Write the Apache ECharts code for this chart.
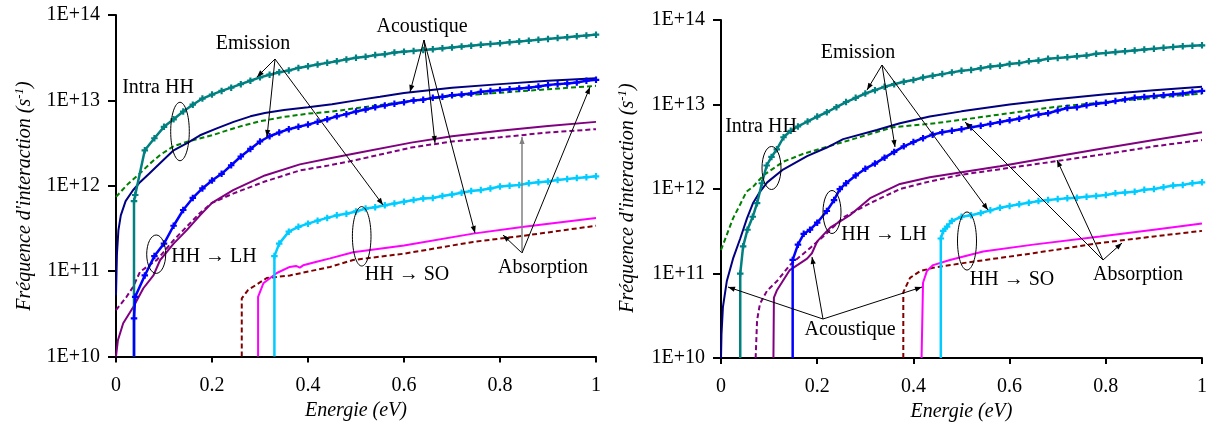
<!DOCTYPE html>
<html><head><meta charset="utf-8">
<script src="https://cdn.jsdelivr.net/npm/echarts@6/dist/echarts.min.js"></script>
<style>html,body{margin:0;padding:0;background:#fff}#c{width:1212px;height:427px}</style>
</head><body><div id="c"></div>
<script>
// ---------- axis ticks ----------
const xTicks = [0, 0.2, 0.4, 0.6, 0.8, 1];
const yTickExponents = [10, 11, 12, 13, 14];

// ---------- LEFT PANEL (Energie in eV, frequency in s^-1) ----------
const L_EM_E = [0.0375,0.0375,0.04,0.06,0.08,0.10,0.12,0.14,0.16,0.18,0.20,0.22,0.24,0.26,0.28,0.30,0.32,0.34,0.36,0.38,0.40,0.42,0.44,0.46,0.48,0.50,0.52,0.54,0.56,0.58,0.60,0.62,0.64,0.66,0.68,0.70,0.72,0.74,0.76,0.78,0.80,0.82,0.84,0.86,0.88,0.90,0.92,0.94,0.96,0.98,1.00];
const L_intraEmission = [1e10,6.6e11,7.8e11,2.6e12,3.6e12,4.9e12,6.0e12,7.4e12,8.9e12,1.05e13,1.17e13,1.29e13,1.41e13,1.55e13,1.70e13,1.86e13,2.0e13,2.14e13,2.24e13,2.4e13,2.51e13,2.63e13,2.75e13,2.88e13,3.02e13,3.16e13,3.24e13,3.39e13,3.47e13,3.63e13,3.72e13,3.80e13,3.89e13,3.98e13,4.07e13,4.17e13,4.27e13,4.37e13,4.47e13,4.57e13,4.68e13,4.79e13,4.90e13,5.01e13,5.13e13,5.25e13,5.37e13,5.50e13,5.62e13,5.75e13,5.89e13];
const L_lhEmission = [1e10,2.8e10,5.0e10,8.9e10,1.5e11,2.1e11,3.4e11,5.2e11,7.2e11,9.3e11,1.15e12,1.38e12,1.74e12,2.2e12,2.7e12,3.3e12,3.8e12,4.2e12,4.6e12,4.9e12,5.2e12,5.6e12,6.0e12,6.5e12,6.9e12,7.4e12,7.8e12,8.3e12,8.7e12,9.1e12,9.5e12,1.0e13,1.02e13,1.07e13,1.10e13,1.15e13,1.17e13,1.2e13,1.26e13,1.29e13,1.32e13,1.35e13,1.38e13,1.41e13,1.45e13,1.51e13,1.55e13,1.58e13,1.62e13,1.70e13,1.74e13];

const L_intraAbs_E = [0,0.002,0.005,0.01,0.02,0.035,0.05,0.07,0.09,0.12,0.15,0.175,0.21,0.245,0.28,0.31,0.35,0.4,0.45,0.5,0.55,0.6,0.7,0.8,0.9,1.0];
const L_intraAbs = [5.2e10,1.6e11,3.0e11,4.5e11,6.6e11,8.8e11,1.1e12,1.4e12,1.8e12,2.6e12,3.2e12,3.9e12,4.7e12,5.6e12,6.5e12,7.1e12,7.7e12,8.3e12,9.0e12,1.0e13,1.1e13,1.22e13,1.41e13,1.55e13,1.7e13,1.82e13];

const L_intraAc_E = [0,0.025,0.05,0.07,0.092,0.12,0.15,0.2,0.25,0.3,0.35,0.4,0.45,0.5,0.6,0.7,0.8,0.9,1.0];
const L_intraAc = [7.4e11,1.05e12,1.4e12,1.8e12,2.3e12,2.9e12,3.3e12,3.9e12,4.8e12,5.7e12,6.4e12,7.0e12,7.4e12,8.1e12,9.6e12,1.12e13,1.23e13,1.35e13,1.48e13];

const L_lhAbs_E = [0,0.004,0.015,0.036,0.057,0.078,0.092,0.12,0.147,0.175,0.2,0.244,0.31,0.383,0.446,0.5,0.615,0.7,0.8,0.9,1.0];
const L_lhAbs = [1.0e10,1.55e10,2.45e10,3.8e10,6.3e10,8.9e10,1.35e11,2.1e11,3.0e11,4.5e11,6.3e11,8.9e11,1.32e12,1.78e12,2.1e12,2.4e12,3.2e12,3.8e12,4.4e12,5.0e12,5.6e12];

const L_lhAc_E = [0,0.022,0.036,0.05,0.064,0.085,0.12,0.147,0.175,0.2,0.244,0.31,0.383,0.446,0.5,0.615,0.7,0.8,0.9,1.0];
const L_lhAc = [3.5e10,5.0e10,6.6e10,9.8e10,1.12e11,1.35e11,2.3e11,3.3e11,4.8e11,6.3e11,8.1e11,1.12e12,1.51e12,1.74e12,2.0e12,2.8e12,3.3e12,3.7e12,4.2e12,4.6e12];

const L_soEm_E = [0.33,0.33,0.34,0.36,0.38,0.40,0.42,0.44,0.46,0.48,0.50,0.52,0.54,0.56,0.58,0.60,0.62,0.64,0.66,0.68,0.70,0.72,0.74,0.76,0.78,0.80,0.82,0.84,0.86,0.88,0.90,0.92,0.94,0.96,0.98,1.00];
const L_soEm = [1e10,1.5e11,2.1e11,2.9e11,3.3e11,3.6e11,3.9e11,4.2e11,4.5e11,4.7e11,5.0e11,5.4e11,5.6e11,5.9e11,6.2e11,6.5e11,6.8e11,7.1e11,7.2e11,7.6e11,7.9e11,8.3e11,8.7e11,8.9e11,9.3e11,9.8e11,1.0e12,1.02e12,1.07e12,1.10e12,1.12e12,1.17e12,1.20e12,1.23e12,1.26e12,1.29e12];

const L_soAbs_E = [0.296,0.296,0.307,0.335,0.362,0.375,0.383,0.39,0.418,0.446,0.494,0.6,0.744,0.85,1.0];
const L_soAbs = [1e10,5.0e10,7.2e10,9.5e10,1.12e11,1.15e11,1.10e11,1.17e11,1.29e11,1.41e11,1.66e11,2.0e11,2.75e11,3.3e11,4.2e11];

const L_soAc_E = [0.262,0.262,0.275,0.314,0.362,0.446,0.494,0.6,0.744,0.85,1.0];
const L_soAc = [1e10,4.8e10,6.0e10,8.3e10,8.9e10,1.12e11,1.35e11,1.6e11,2.2e11,2.6e11,3.4e11];

// ---------- RIGHT PANEL ----------
const R_intraEm_E = [0.04,0.04,0.046,0.055,0.066,0.075,0.085,0.095,0.105,0.116,0.13,0.145,0.16,0.18,0.20,0.22,0.24,0.26,0.28,0.30,0.32,0.34,0.36,0.38,0.40,0.42,0.44,0.46,0.48,0.50,0.52,0.54,0.56,0.58,0.60,0.62,0.64,0.66,0.68,0.70,0.72,0.74,0.76,0.78,0.80,0.82,0.84,0.86,0.88,0.90,0.92,0.94,0.96,0.98,1.00];
const R_intraEm = [1e10,1.0e11,2.1e11,3.3e11,4.7e11,6.8e11,1.17e12,1.9e12,2.4e12,2.95e12,4.1e12,4.9e12,5.5e12,6.3e12,7.2e12,8.1e12,9.3e12,1.07e13,1.20e13,1.35e13,1.48e13,1.62e13,1.74e13,1.86e13,1.95e13,2.09e13,2.19e13,2.29e13,2.4e13,2.51e13,2.57e13,2.69e13,2.82e13,2.88e13,3.02e13,3.09e13,3.24e13,3.31e13,3.47e13,3.55e13,3.63e13,3.72e13,3.80e13,3.98e13,4.07e13,4.17e13,4.27e13,4.37e13,4.47e13,4.57e13,4.68e13,4.79e13,4.90e13,4.95e13,5.01e13];

const R_intraAbs_E = [0,0.001,0.004,0.012,0.025,0.04,0.054,0.067,0.08,0.096,0.129,0.179,0.22,0.254,0.324,0.372,0.434,0.5,0.6,0.69,0.8,0.9,1.0];
const R_intraAbs = [1e10,1.9e10,4.0e10,8.1e10,1.5e11,2.6e11,4.5e11,6.9e11,9.1e11,1.2e12,1.7e12,2.45e12,3.1e12,3.9e12,5.0e12,6.0e12,7.2e12,8.3e12,1.0e13,1.15e13,1.32e13,1.48e13,1.62e13];

const R_intraAc_E = [0,0.025,0.04,0.053,0.067,0.088,0.129,0.17,0.254,0.358,0.434,0.5,0.6,0.69,0.8,0.9,1.0];
const R_intraAc = [1.9e11,4.5e11,6.6e11,9.3e11,1.07e12,1.45e12,2.1e12,2.6e12,3.6e12,5.4e12,5.9e12,6.6e12,7.9e12,9.3e12,1.07e13,1.2e13,1.35e13];

const R_lhEm_E = [0.149,0.149,0.16,0.172,0.185,0.20,0.22,0.235,0.247,0.26,0.28,0.30,0.32,0.34,0.36,0.38,0.40,0.42,0.44,0.46,0.48,0.50,0.52,0.54,0.56,0.58,0.60,0.62,0.64,0.66,0.68,0.70,0.72,0.74,0.76,0.78,0.80,0.82,0.84,0.86,0.88,0.90,0.92,0.94,0.96,0.98,1.00];
const R_lhEm = [1e10,1.45e11,2.2e11,2.95e11,3.3e11,4.0e11,5.5e11,7.4e11,1.0e12,1.17e12,1.45e12,1.74e12,2.0e12,2.35e12,2.75e12,3.2e12,3.6e12,4.0e12,4.4e12,4.7e12,4.9e12,5.1e12,5.4e12,5.6e12,5.9e12,6.2e12,6.5e12,6.8e12,7.2e12,7.6e12,7.9e12,8.5e12,9.1e12,9.3e12,9.8e12,1.02e13,1.05e13,1.10e13,1.15e13,1.20e13,1.23e13,1.26e13,1.29e13,1.32e13,1.35e13,1.41e13,1.45e13];

const R_lhAbs_E = [0.109,0.11,0.116,0.143,0.179,0.189,0.2,0.227,0.268,0.31,0.372,0.434,0.5,0.58,0.69,0.79,0.9,1.0];
const R_lhAbs = [1e10,5.2e10,6.3e10,1.1e11,1.5e11,1.74e11,2.4e11,3.5e11,4.9e11,7.8e11,1.15e12,1.38e12,1.58e12,1.86e12,2.4e12,3.0e12,3.8e12,4.7e12];

const R_lhAc_E = [0.072,0.075,0.081,0.096,0.116,0.143,0.185,0.22,0.254,0.31,0.372,0.434,0.5,0.6,0.7,0.8,0.9,1.0];
const R_lhAc = [1e10,2.8e10,4.4e10,6.3e10,8.1e10,1.26e11,2.0e11,3.0e11,4.6e11,6.8e11,1.0e12,1.23e12,1.48e12,1.78e12,2.15e12,2.6e12,3.2e12,3.8e12];

const R_soEm_E = [0.457,0.457,0.462,0.47,0.48,0.50,0.52,0.54,0.56,0.58,0.60,0.62,0.64,0.66,0.68,0.70,0.72,0.74,0.76,0.78,0.80,0.82,0.84,0.86,0.88,0.90,0.92,0.94,0.96,0.98,1.00];
const R_soEm = [1e10,2.6e11,3.2e11,3.6e11,4.2e11,4.7e11,4.9e11,5.2e11,5.6e11,6.0e11,6.3e11,6.6e11,6.9e11,7.2e11,7.4e11,7.6e11,7.8e11,7.9e11,8.1e11,8.3e11,8.5e11,8.9e11,9.1e11,9.3e11,9.8e11,1.0e12,1.05e12,1.10e12,1.12e12,1.17e12,1.2e12];

const R_soAbs_E = [0.417,0.42,0.428,0.441,0.476,0.545,0.649,0.788,0.9,1.0];
const R_soAbs = [1e10,7.8e10,1.07e11,1.26e11,1.45e11,1.82e11,2.2e11,2.75e11,3.3e11,3.9e11];

const R_soAc_E = [0.379,0.379,0.393,0.414,0.441,0.511,0.649,0.788,0.9,1.0];
const R_soAc = [1e10,6.0e10,8.9e10,1.07e11,1.17e11,1.35e11,1.74e11,2.3e11,2.75e11,3.2e11];

// ---------- styling ----------
const FONT = '"Liberation Serif", "Times New Roman", serif';
const C = {teal:'#008080', navy:'#000080', green:'#008000', blue:'#0000FF', purple:'#800080', cyan:'#00CCFF', magenta:'#FF00FF', darkred:'#800000'};
const PLUS = 'path://M2,0H4V2H6V4H4V6H2V4H0V2H2Z';

function pairs(E, F){
  if (E.length !== F.length) throw new Error('length mismatch ' + E.length + ' vs ' + F.length);
  return E.map((e,i)=> (i===0 && F[0] <= 1e10) ? {value:[e,F[i]], symbol:'none'} : [e, F[i]]);
}
function ser(name, E, F, idx, color, kind){
  const s = {type:'line', name, xAxisIndex:idx, yAxisIndex:idx, data:pairs(E,F), silent:true,
    lineStyle:{color, width: kind==='mark' ? 2.5 : 2, type: kind==='dash' ? [5,3] : 'solid'}, itemStyle:{color}, z: kind==='mark'?5:3};
  if (kind === 'mark') { s.symbol = PLUS; s.symbolSize = 6.5; s.showSymbol = true; s.showAllSymbol = true; }
  else { s.showSymbol = false; s.symbol = 'none'; }
  return s;
}

function xAx(i){
  return {gridIndex:i, type:'value', min:0, max:1, interval:0.2,
    axisLine:{show:true, onZero:false, lineStyle:{color:'#000', width:2}},
    axisTick:{show:true, length:6, lineStyle:{color:'#000', width:2}},
    axisLabel:{color:'#000', fontFamily:FONT, fontSize:20, margin:19, formatter:v=>String(+v.toFixed(1))},
    splitLine:{show:false},
    name:'Energie (eV)', nameLocation:'middle', nameGap:43,
    nameTextStyle:{fontFamily:FONT, fontStyle:'italic', fontSize:20, color:'#000'}};
}
function yAx(i){
  return {gridIndex:i, type:'log', logBase:10, min:1e10, max:1e14,
    axisLine:{show:true, lineStyle:{color:'#000', width:2}},
    axisTick:{show:true, length:8, lineStyle:{color:'#000', width:2}},
    minorTick:{show:false}, splitLine:{show:false},
    axisLabel:{color:'#000', fontFamily:FONT, fontSize:20, margin:16,
      formatter:v=>'1E+' + Math.round(Math.log10(v))}};
}

// ---------- annotations (pixel placement) ----------
const ann = [];
function arrow(x1,y1,x2,y2,color,w){
  color = color || '#000'; w = w || 1;
  ann.push({type:'line', shape:{x1,y1,x2,y2}, style:{stroke:color, lineWidth:w}, z:100, silent:true});
  const a = Math.atan2(y2-y1, x2-x1), L = 7, W = 2.6;
  const bx = x2 - L*Math.cos(a), by = y2 - L*Math.sin(a);
  ann.push({type:'polygon', shape:{points:[[x2,y2],[bx+W*Math.sin(a), by-W*Math.cos(a)],[bx-W*Math.sin(a), by+W*Math.cos(a)]]},
    style:{fill:color}, z:100, silent:true});
}
function label(text,x,y){
  ann.push({type:'text', x, y, z:101, silent:true,
    style:{text, fontFamily:FONT, fontSize:20, fill:'#000', align:'center', verticalAlign:'middle'}});
}
function ring(cx,cy,rx,ry){
  ann.push({type:'ellipse', shape:{cx,cy,rx,ry}, style:{fill:'none', stroke:'#000', lineWidth:1}, z:100, silent:true});
}
function yTitle(x,y){
  ann.push({type:'text', x, y, rotation:Math.PI/2, z:101, silent:true,
    style:{text:"{a|Fréquence d'interaction (s}{b|-1}{a|)}", align:'center', verticalAlign:'middle',
      rich:{a:{fontFamily:FONT, fontStyle:'italic', fontSize:20, fill:'#000', lineHeight:24},
            b:{fontFamily:FONT, fontStyle:'italic', fontSize:13, fill:'#000', verticalAlign:'top', lineHeight:24}}}});
}

// left panel annotations
yTitle(25, 196);
label('Emission', 253, 44);
arrow(275,59,257,77); arrow(275,59,267,137); arrow(275,59,383,205);
label('Acoustique', 422, 27);
arrow(424,40,410,92); arrow(424,40,435,143); arrow(424,40,475,233);
label('Absorption', 543, 268);
arrow(522,253,503,235); arrow(522,253,522,137,'#808080',1.5); arrow(522,253,590,87);
label('Intra HH', 158, 88); ring(180,131.5,9.3,29.2);
label('HH \u2192 LH', 214, 257); ring(156.2,254.2,9.5,19.2);
label('HH \u2192 SO', 407, 275); ring(361.7,236.3,9.3,29.7);

// right panel annotations
yTitle(628, 198);
label('Emission', 858, 53);
arrow(882,65,867,90); arrow(882,65,895,147); arrow(882,65,988,210);
label('Acoustique', 850, 330);
arrow(823,319,728,287); arrow(823,319,812,257); arrow(823,319,922,287);
label('Absorption', 1138, 275);
arrow(1103,260,1122,243); arrow(1103,260,965,122); arrow(1103,260,1057,160);
label('Intra HH', 761, 127); ring(771.5,168,9.5,21.5);
label('HH \u2192 LH', 884, 235); ring(832,212,9,21.5);
label('HH \u2192 SO', 1012, 280); ring(967,241,9.5,29);

const option = {
  animation:false,
  backgroundColor:'#ffffff',
  grid:[{left:116, top:15, width:480, height:341.5}, {left:721, top:20, width:481, height:341}],
  xAxis:[xAx(0), xAx(1)],
  yAxis:[yAx(0), yAx(1)],
  series:[
    ser('Intra HH acoustique', L_intraAc_E, L_intraAc, 0, C.green, 'dash'),
    ser('Intra HH absorption', L_intraAbs_E, L_intraAbs, 0, C.navy, 'solid'),
    ser('HH-LH acoustique', L_lhAc_E, L_lhAc, 0, C.purple, 'dash'),
    ser('HH-LH absorption', L_lhAbs_E, L_lhAbs, 0, C.purple, 'solid'),
    ser('HH-SO acoustique', L_soAc_E, L_soAc, 0, C.darkred, 'dash'),
    ser('HH-SO absorption', L_soAbs_E, L_soAbs, 0, C.magenta, 'solid'),
    ser('Intra HH emission', L_EM_E, L_intraEmission, 0, C.teal, 'mark'),
    ser('HH-LH emission', L_EM_E, L_lhEmission, 0, C.blue, 'mark'),
    ser('HH-SO emission', L_soEm_E, L_soEm, 0, C.cyan, 'mark'),

    ser('Intra HH acoustique ', R_intraAc_E, R_intraAc, 1, C.green, 'dash'),
    ser('Intra HH absorption ', R_intraAbs_E, R_intraAbs, 1, C.navy, 'solid'),
    ser('HH-LH acoustique ', R_lhAc_E, R_lhAc, 1, C.purple, 'dash'),
    ser('HH-LH absorption ', R_lhAbs_E, R_lhAbs, 1, C.purple, 'solid'),
    ser('HH-SO acoustique ', R_soAc_E, R_soAc, 1, C.darkred, 'dash'),
    ser('HH-SO absorption ', R_soAbs_E, R_soAbs, 1, C.magenta, 'solid'),
    ser('Intra HH emission ', R_intraEm_E, R_intraEm, 1, C.teal, 'mark'),
    ser('HH-LH emission ', R_lhEm_E, R_lhEm, 1, C.blue, 'mark'),
    ser('HH-SO emission ', R_soEm_E, R_soEm, 1, C.cyan, 'mark')
  ],
  graphic: ann
};
const chart = echarts.init(document.getElementById('c'), null, {renderer:'canvas'});
chart.setOption(option);
</script>
</body></html>
